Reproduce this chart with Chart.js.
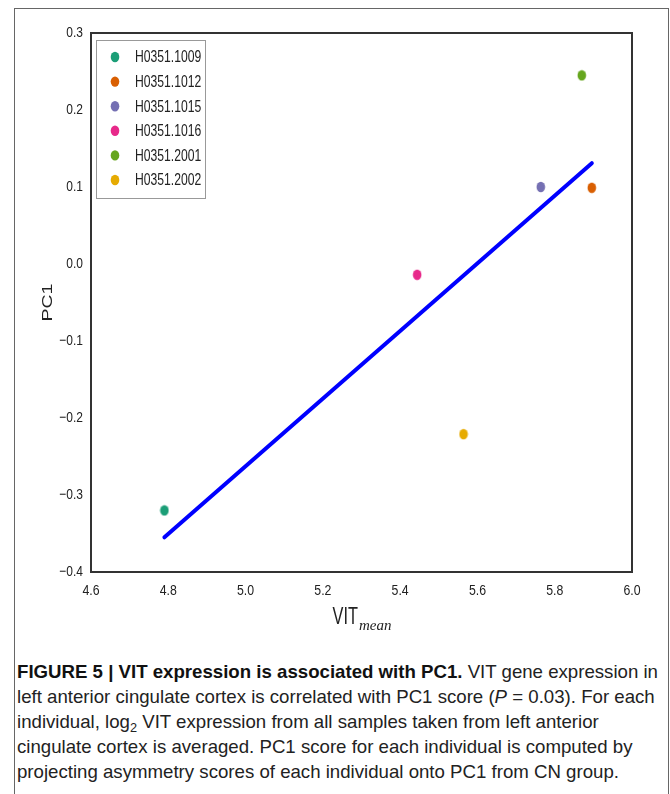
<!DOCTYPE html>
<html>
<head>
<meta charset="utf-8">
<script src="https://cdn.jsdelivr.net/npm/chart.js@4.4.0/dist/chart.umd.min.js"></script>
<style>
  body { margin: 0; background: #fff; width: 670px; height: 794px; overflow: hidden; position: relative; }
  .frame { position: absolute; left: 14px; top: 8px; width: 653px; height: 800px; border: 1px solid #666; border-bottom: none; }
  .wrap { position: absolute; left: 0; top: 0; width: 670px; height: 640px; }
  .caption { position: absolute; left: 17px; top: 659px; font-family: 'Liberation Sans', sans-serif; font-size: 19px; line-height: 25px; color: #222; white-space: nowrap; transform-origin: 0 0; }
  .caption b { color: #111; }
  .caption sub { font-size: 13px; vertical-align: -4px; line-height: 0; }
</style>
</head>
<body>
<div class="frame"></div>
<div class="wrap"><canvas id="myChart" width="670" height="640"></canvas></div>
<div class="caption" id="caption"><span id="line1"><b>FIGURE 5 | VIT expression is associated with PC1.</b> VIT gene expression in</span><br>left anterior cingulate cortex is correlated with PC1 score (<i>P</i> = 0.03). For each<br>individual, log<sub>2</sub> VIT expression from all samples taken from left anterior<br>cingulate cortex is averaged. PC1 score for each individual is computed by<br>projecting asymmetry scores of each individual onto PC1 from CN group.</div>
<script>
var samples = ['H0351.1009', 'H0351.1012', 'H0351.1015', 'H0351.1016', 'H0351.2001', 'H0351.2002'];
var vitMean = [4.79, 5.896, 5.764, 5.444, 5.870, 5.564];
var pc1 = [-0.320, 0.099, 0.100, -0.014, 0.245, -0.221];
var colors = ['#1b9e77', '#d95f02', '#7570b3', '#e7298a', '#66a61e', '#e6ab02'];
var fitX = [4.79, 5.896];
var fitY = [-0.355, 0.131];
var xTicks = [4.6, 4.8, 5.0, 5.2, 5.4, 5.6, 5.8, 6.0];
var yTicks = [0.3, 0.2, 0.1, 0.0, -0.1, -0.2, -0.3, -0.4];

// the original figure is a condensed face (and stretched tall); squeeze Liberation Sans
var baseFont = "'Liberation Sans', sans-serif";

// fit the caption's first line to the original width
var cap = document.getElementById('caption');
var l1 = document.getElementById('line1').getBoundingClientRect().width;
cap.style.transform = 'scaleX(' + (641 / l1) + ')';

function narrowText(g, text, x, y, align, size, squeeze) {
    g.save();
    g.font = size + 'px ' + baseFont;
    g.translate(x, y);
    g.scale(squeeze, 1);
    g.textAlign = align;
    g.fillText(text, 0, 0);
    g.restore();
}

function dot(color) {
    var c = document.createElement('canvas');
    c.width = 10; c.height = 12;
    var g = c.getContext('2d');
    g.fillStyle = color;
    g.beginPath();
    g.ellipse(5, 6, 4.3, 5.2, 0, 0, Math.PI * 2);
    g.fill();
    return c;
}

var datasets = samples.map(function (s, i) {
    return {
        type: 'scatter',
        label: s,
        data: [{ x: vitMean[i], y: pc1[i] }],
        backgroundColor: colors[i],
        pointStyle: dot(colors[i]),
        pointRadius: 5
    };
});
datasets.push({
    type: 'line',
    label: 'fit',
    data: fitX.map(function (x, i) { return { x: x, y: fitY[i] }; }),
    borderColor: '#0000ff',
    borderWidth: 4,
    borderCapStyle: 'round',
    pointRadius: 0,
    fill: false
});

function fmt(v) {
    var t = Math.abs(v).toFixed(1);
    return v < -0.001 ? '\u2212' + t : t;
}

var extras = {
    id: 'extras',
    afterDraw: function (chart) {
        var g = chart.ctx;
        var a = chart.chartArea;
        var sx = chart.scales.x, sy = chart.scales.y;
        g.save();
        g.strokeStyle = '#333';
        g.lineWidth = 2;
        g.strokeRect(a.left, a.top, a.right - a.left, a.bottom - a.top);

        // tick labels
        g.fillStyle = '#222';
        g.textBaseline = 'middle';
        xTicks.forEach(function (v) {
            narrowText(g, v.toFixed(1), sx.getPixelForValue(v), a.bottom + 19, 'center', 15, 0.82);
        });
        yTicks.forEach(function (v) {
            narrowText(g, fmt(v), a.left - 8, sy.getPixelForValue(v), 'right', 15, 0.8);
        });

        // legend
        var lx = a.left + 5, ly = a.top + 7;
        g.fillStyle = '#fff';
        g.fillRect(lx, ly, 109, 158);
        g.strokeStyle = '#999';
        g.lineWidth = 1;
        g.strokeRect(lx + 0.5, ly + 0.5, 109, 158);
        samples.forEach(function (s, i) {
            var y = ly + 17 + i * 24.6;
            g.fillStyle = colors[i];
            g.beginPath();
            g.ellipse(lx + 19, y, 4.3, 5.2, 0, 0, Math.PI * 2);
            g.fill();
            g.fillStyle = '#222';
            narrowText(g, s, lx + 39, y + 1, 'left', 16, 0.76);
        });

        // y title, stretched along its length like the original
        g.save();
        g.translate(48, (a.top + a.bottom) / 2);
        g.rotate(-Math.PI / 2);
        g.scale(1.3, 1);
        g.font = '15px ' + baseFont;
        g.textAlign = 'center';
        g.textBaseline = 'middle';
        g.fillStyle = '#222';
        g.fillText('PC1', 0, 0);
        g.restore();

        // x title with subscript
        g.textBaseline = 'alphabetic';
        g.font = '24px ' + baseFont;
        var w1 = g.measureText('VIT').width * 0.68;
        g.font = 'italic 15px "Liberation Serif", serif';
        var w2 = g.measureText('mean').width;
        var x0 = (a.left + a.right) / 2 - (w1 + w2) / 2;
        narrowText(g, 'VIT', x0, 624, 'left', 24, 0.68);
        g.font = 'italic 15px "Liberation Serif", serif';
        g.textAlign = 'left';
        g.fillText('mean', x0 + w1 + 1, 630);
        g.restore();
    }
};

const ctx = document.getElementById('myChart').getContext('2d');
const myChart = new Chart(ctx, {
    data: { datasets: datasets },
    plugins: [extras],
    options: {
        responsive: false,
        animation: false,
        layout: { padding: { left: 0, top: 33, right: 38, bottom: 0 } },
        plugins: { legend: { display: false }, tooltip: { enabled: false } },
        scales: {
            x: {
                type: 'linear',
                min: 4.6,
                max: 6.0,
                afterBuildTicks: function (s) { s.ticks = xTicks.map(function (v) { return { value: v }; }); },
                afterFit: function (s) { s.height = 68; },
                grid: { display: false, drawTicks: false },
                border: { display: false },
                ticks: { display: false }
            },
            y: {
                type: 'linear',
                min: -0.4,
                max: 0.3,
                afterBuildTicks: function (s) { s.ticks = yTicks.map(function (v) { return { value: v }; }); },
                afterFit: function (s) { s.width = 91; },
                grid: { display: false, drawTicks: false },
                border: { display: false },
                ticks: { display: false }
            }
        }
    }
});
</script>
</body>
</html>
